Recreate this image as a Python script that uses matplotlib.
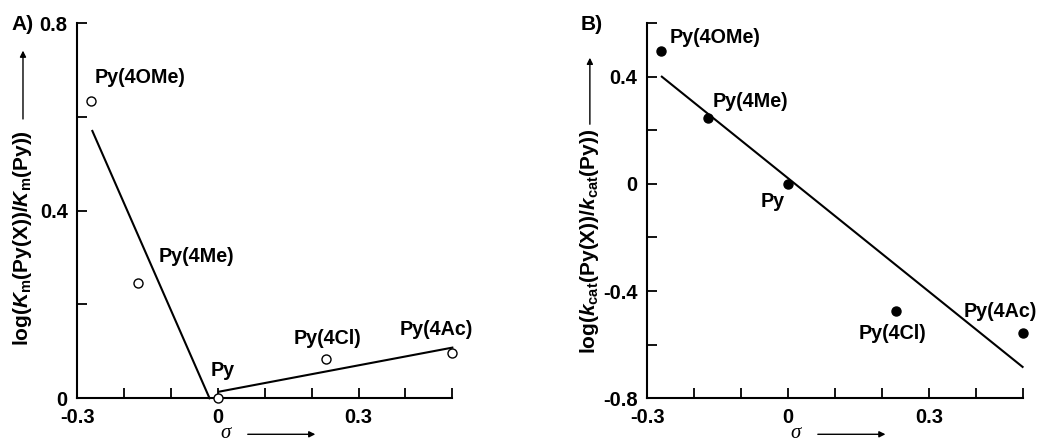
import matplotlib
matplotlib.use('Agg')
import matplotlib.pyplot as plt

plt.rcParams['font.family'] = 'Liberation Sans'
plt.rcParams['font.weight'] = 'bold'
plt.rcParams['mathtext.fontset'] = 'custom'
plt.rcParams['mathtext.rm'] = 'Liberation Sans:bold'
plt.rcParams['mathtext.it'] = 'Liberation Sans:bold:italic'
plt.rcParams['mathtext.bf'] = 'Liberation Sans:bold'

# данные: заместители пиридина и константы Гаммета
names = ['Py(4OMe)', 'Py(4Me)', 'Py', 'Py(4Cl)', 'Py(4Ac)']
sigma = [-0.27, -0.17, 0.0, 0.23, 0.50]
log_km = [0.634, 0.245, 0.0, 0.083, 0.097]
log_kcat = [0.497, 0.245, 0.0, -0.475, -0.558]

# аппроксимирующие прямые (концы отрезков)
km_fit1_x = [-0.268, -0.018]
km_fit1_y = [0.570, 0.0]
km_fit2_x = [0.002, 0.5]
km_fit2_y = [0.014, 0.108]
kcat_fit_x = [-0.269, 0.5]
kcat_fit_y = [0.40, -0.683]

# положения подписей точек
km_lbl_x = [-0.264, -0.127, -0.016, 0.161, 0.388]
km_lbl_y = [0.683, 0.302, 0.060, 0.128, 0.146]
kcat_lbl_x = [-0.253, -0.161, -0.058, 0.151, 0.374]
kcat_lbl_y = [0.545, 0.308, -0.066, -0.558, -0.477]

x_ticks = [-0.3, -0.2, -0.1, 0.0, 0.1, 0.2, 0.3, 0.4, 0.5]
x_labels = ['-0.3', '', '', '0', '', '', '0.3', '', '']
km_ticks = [0.0, 0.2, 0.4, 0.6, 0.8]
km_labels = ['0', '', '0.4', '', '0.8']
kcat_ticks = [-0.8, -0.6, -0.4, -0.2, 0.0, 0.2, 0.4, 0.6]
kcat_labels = ['-0.8', '', '-0.4', '', '0', '', '0.4', '']


# Функция оформления осей в стиле журнального рисунка
def style_axes(ax, yticks, ylabels, ylim, ylabel, panel,
               ylab_x, ylab_y, arr_y0, arr_y1):
    ax.set_xlim(-0.3, 0.5)
    ax.set_ylim(*ylim)
    ax.spines['top'].set_visible(False)
    ax.spines['right'].set_visible(False)
    for s in ('left', 'bottom'):
        ax.spines[s].set_linewidth(1.5)
    ax.set_xticks(x_ticks)
    ax.set_xticklabels(x_labels)
    ax.set_yticks(yticks)
    ax.set_yticklabels(ylabels)
    ax.tick_params(direction='in', length=7, width=1.3, labelsize=14.5)
    ax.tick_params(axis='x', pad=7)
    ax.tick_params(axis='y', pad=7)

    # подпись оси y со стрелкой
    ax.text(ylab_x, ylab_y, ylabel, transform=ax.transAxes, rotation=90,
            ha='center', va='center', fontsize=15)
    ax.annotate('', xy=(ylab_x, arr_y1), xytext=(ylab_x, arr_y0),
                xycoords='axes fraction', textcoords='axes fraction',
                arrowprops=dict(arrowstyle='-|>', color='black', lw=1,
                                mutation_scale=9))
    # подпись оси x со стрелкой
    ax.text(0.394, -0.106, 'σ', transform=ax.transAxes, ha='center',
            va='baseline', fontsize=15, family='Liberation Serif',
            style='italic', weight='normal')
    ax.annotate('', xy=(0.642, -0.096), xytext=(0.447, -0.096),
                xycoords='axes fraction', textcoords='axes fraction',
                arrowprops=dict(arrowstyle='-|>', color='black', lw=1,
                                mutation_scale=9))
    ax.text(-0.147, 0.995, panel, transform=ax.transAxes, ha='center',
            va='center', fontsize=15)


fig = plt.figure(figsize=(10.37, 4.44), dpi=100)
ax1 = fig.add_axes([0.0746, 0.103, 0.3616, 0.845])
ax2 = fig.add_axes([0.6242, 0.103, 0.3619, 0.845])

# A) Km
ax1.plot(km_fit1_x, km_fit1_y, color='black', lw=1.5, clip_on=False)
ax1.plot(km_fit2_x, km_fit2_y, color='black', lw=1.5, clip_on=False)
ax1.plot(sigma, log_km, 'o', mfc='white', mec='black', mew=1.0, ms=6.5,
         clip_on=False, zorder=5)
for name, x, y in zip(names, km_lbl_x, km_lbl_y):
    ax1.text(x, y, name, ha='left', va='center', fontsize=14.2)
style_axes(ax1, km_ticks, km_labels, (0, 0.8),
           r'log($K_{\mathrm{m}}$(Py(X))/$K_{\mathrm{m}}$(Py))', 'A)',
           -0.145, 0.427, 0.737, 0.934)

# B) kcat
ax2.plot(kcat_fit_x, kcat_fit_y, color='black', lw=1.5, clip_on=False)
ax2.plot(sigma, log_kcat, 'o', color='black', ms=6.5, clip_on=False, zorder=5)
for name, x, y in zip(names, kcat_lbl_x, kcat_lbl_y):
    ax2.text(x, y, name, ha='left', va='center', fontsize=14.2)
style_axes(ax2, kcat_ticks, kcat_labels, (-0.8, 0.6),
           r'log($k_{\mathrm{cat}}$(Py(X))/$k_{\mathrm{cat}}$(Py))', 'B)',
           -0.153, 0.419, 0.723, 0.915)

fig.savefig('out.png', dpi=100)
